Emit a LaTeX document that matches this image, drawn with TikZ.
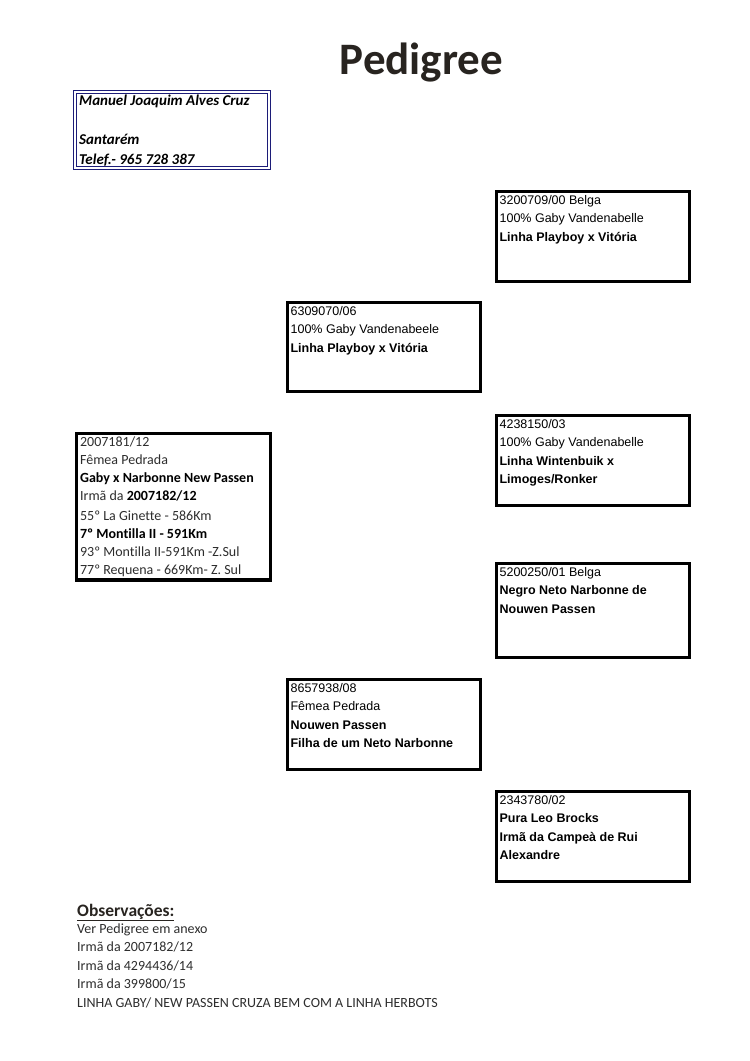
\documentclass[tikz,border=0pt]{standalone}
\usepackage{fontspec}
\setmainfont{Carlito}[Ligatures=NoCommon]
\newfontfamily\arialfont{Liberation Sans}
\usepackage{xcolor}
\definecolor{titlecolor}{RGB}{40,36,32}
\definecolor{ownerblue}{RGB}{28,28,120}
\definecolor{obscolor}{RGB}{45,45,45}
\newcommand{\celltext}[2]{\parbox[t][#1][t]{186pt}{#2}}
\tikzset{
  x=1pt, y=-1pt,
  pbox/.style   = {draw=black,line width=3.2pt,anchor=north west,
                   minimum width=193pt,inner xsep=1pt,inner ysep=4.2pt,
                   align=left,font=\arialfont\fontsize{12.5}{18.5}\selectfont},
  cbox/.style   = {draw=black,line width=3.2pt,anchor=north west,
                   minimum width=194pt,inner xsep=1pt,inner ysep=3.4pt,
                   align=left,text=obscolor,font=\fontsize{14}{18}\selectfont},
  ownerbox/.style = {draw=ownerblue,line width=1.3pt,double=white,
                   double distance=1.4pt,anchor=north west,
                   minimum width=194pt,inner xsep=2pt,inner ysep=3pt,
                   align=left,font=\bfseries\itshape\fontsize{15}{19.5}\selectfont},
  obsline/.style = {anchor=base west,inner sep=0pt,text=obscolor,
                   font=\fontsize{14}{18}\selectfont},
}

\begin{document}
\begin{tikzpicture}
  \useasboundingbox (0,0) rectangle (750,1061);
  \node[anchor=base,text=titlecolor,font=\bfseries\fontsize{45}{50}\selectfont]
        (title) at (421.5,74) {Pedigree};
  % owner
  \node[ownerbox] (owner) at (74.5,91.5)
        {\celltext{70pt}{Manuel Joaquim Alves Cruz\\[19.5pt]Santarém\\Telef.- 965 728 387}};
  % pigeon
  \node[cbox] (pigeon) at (74.5,431.5)
        {\celltext{140pt}{2007181/12\\Fêmea Pedrada\\
         \textcolor{black}{\textbf{Gaby x Narbonne New Passen}}\\
         Irmã da \textcolor{black}{\textbf{2007182/12}}\\[2pt]
         55º La Ginette - 586Km\\
         \textcolor{black}{\textbf{7º Montilla II - 591Km}}\\
         93º Montilla II-591Km -Z.Sul\\
         77º Requena - 669Km- Z. Sul}};
  % parents
  \node[pbox] (sire) at (285.5,300.5)
        {\celltext{80.6pt}{6309070/06\\100\% Gaby Vandenabeele\\\textbf{Linha Playboy x Vitória}}};
  \node[pbox] (dam) at (285.5,677.5)
        {\celltext{81.6pt}{8657938/08\\Fêmea Pedrada\\\textbf{Nouwen Passen}\\
         \textbf{Filha de um Neto Narbonne}}};
  % grandparents
  \node[pbox] (sire-sire) at (494.5,189.5)
        {\celltext{81.6pt}{3200709/00 Belga\\100\% Gaby Vandenabelle\\\textbf{Linha Playboy x Vitória}}};
  \node[pbox] (sire-dam) at (494.5,413.5)
        {\celltext{81.6pt}{4238150/03\\100\% Gaby Vandenabelle\\\textbf{Linha Wintenbuik x}\\
         \textbf{Limoges/Ronker}}};
  \node[pbox] (dam-sire) at (494.5,561.5)
        {\celltext{85.6pt}{5200250/01 Belga\\\textbf{Negro Neto Narbonne de}\\
         \textbf{Nouwen Passen}}};
  \node[pbox] (dam-dam) at (494.5,789.5)
        {\celltext{81.6pt}{2343780/02\\\textbf{Pura Leo Brocks}\\
         \textbf{Irmã da Campeà de Rui}\\\textbf{Alexandre}}};
  % notes
  \node[anchor=base west,inner sep=0pt,text=titlecolor,
        font=\bfseries\fontsize{17.5}{20}\selectfont] (obs) at (77,916)
        {\underline{Observações:}};
  \node[obsline] (obs1) at (77,933)  {Ver Pedigree em anexo};
  \node[obsline] (obs2) at (77,951.5) {Irmã da 2007182/12};
  \node[obsline] (obs3) at (77,970) {Irmã da 4294436/14};
  \node[obsline] (obs4) at (77,988.5) {Irmã da 399800/15};
  \node[obsline] (obs5) at (77,1007) {LINHA GABY/ NEW PASSEN CRUZA BEM COM A LINHA HERBOTS};
\end{tikzpicture}
\end{document}
